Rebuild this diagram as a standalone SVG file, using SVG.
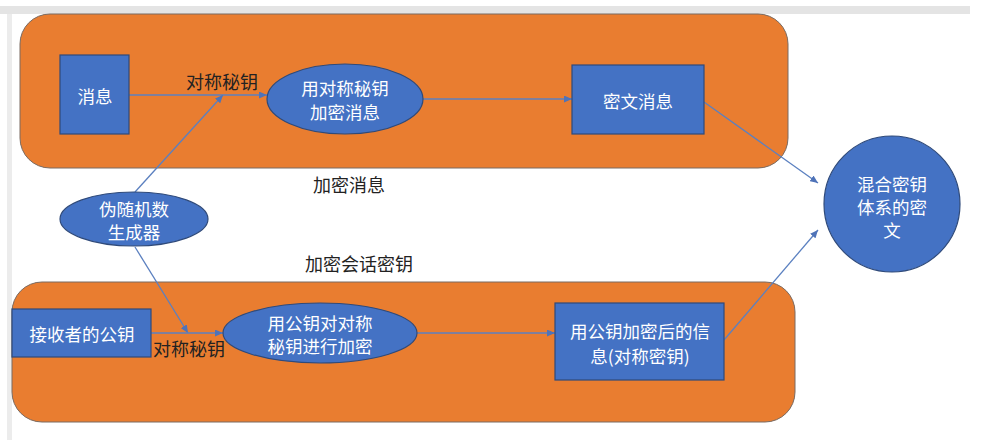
<svg xmlns="http://www.w3.org/2000/svg" width="999" height="440" viewBox="0 0 999 440">
<style>
.grp{fill:#E97D30;stroke:#7a6a60;stroke-width:1}
.nd{fill:#4472C4;stroke:#2F4A7A;stroke-width:1.2}
.nt{font-family:"Noto Sans CJK SC","Noto Sans",sans-serif;font-size:17.5px;fill:#ffffff;text-anchor:middle;dominant-baseline:central}
.lb{font-family:"Noto Sans CJK SC","Noto Sans",sans-serif;font-size:18px;fill:#222222;text-anchor:middle;dominant-baseline:central}
.cn{stroke:#5B80C0;stroke-width:1.3;fill:none;marker-end:url(#ah)}
</style>
<defs>
<marker id="ah" markerWidth="8" markerHeight="7" refX="8" refY="3.5" orient="auto" markerUnits="userSpaceOnUse">
<path d="M0,0 L8,3.5 L0,7 z" fill="#4F73B8"/>
</marker>
</defs>
<rect x="0" y="0" width="999" height="440" fill="#ffffff"/>
<rect x="0" y="6" width="970" height="8" fill="#e4e4e4"/>
<rect x="7" y="14" width="5" height="426" fill="#ececec"/>
<g id="group-top"><rect class="grp" x="20" y="14" width="768" height="154" rx="30" ry="30"/></g>
<g id="group-bottom"><rect class="grp" x="12" y="282" width="783" height="140" rx="30" ry="30"/></g>
<g id="connectors">
<line class="cn" x1="129" y1="95" x2="267" y2="95"/>
<line class="cn" x1="135" y1="192" x2="223" y2="95"/>
<line class="cn" x1="423" y1="99" x2="572" y2="99"/>
<line class="cn" x1="704" y1="102" x2="818" y2="183"/>
<line class="cn" x1="135" y1="247" x2="188" y2="333"/>
<line class="cn" x1="151" y1="333" x2="223" y2="333"/>
<line class="cn" x1="416" y1="333" x2="555" y2="333"/>
<line class="cn" x1="724" y1="340" x2="818" y2="230"/>
</g>
<g id="n-msg"><rect class="nd" x="60" y="55" width="69" height="79"/><text class="nt" x="95" y="95">消息</text></g>
<g id="n-enc-msg"><ellipse class="nd" cx="345" cy="99" rx="78" ry="35"/><text class="nt" x="345" y="87">用对称秘钥</text><text class="nt" x="345" y="111">加密消息</text></g>
<g id="n-cipher"><rect class="nd" x="572" y="65" width="132" height="69"/><text class="nt" x="638" y="100">密文消息</text></g>
<g id="n-hybrid"><circle class="nd" cx="892" cy="204" r="68"/><text class="nt" x="892" y="183">混合密钥</text><text class="nt" x="892" y="206">体系的密</text><text class="nt" x="892" y="229">文</text></g>
<g id="n-prng"><ellipse class="nd" cx="134" cy="219" rx="74" ry="27"/><text class="nt" x="134" y="208">伪随机数</text><text class="nt" x="134" y="231">生成器</text></g>
<g id="n-pubkey"><rect class="nd" x="12" y="309" width="139" height="48"/><text class="nt" x="82" y="333">接收者的公钥</text></g>
<g id="n-enc-key"><ellipse class="nd" cx="320" cy="333" rx="97" ry="30"/><text class="nt" x="320" y="322">用公钥对对称</text><text class="nt" x="320" y="345">秘钥进行加密</text></g>
<g id="n-enc-info"><rect class="nd" x="555" y="303" width="169" height="77"/><text class="nt" x="640" y="330">用公钥加密后的信</text><text class="nt" x="640" y="355">息(对称密钥)</text></g>
<g id="labels">
<text class="lb" x="222" y="81">对称秘钥</text>
<text class="lb" x="349" y="184">加密消息</text>
<text class="lb" x="359" y="263">加密会话密钥</text>
<text class="lb" x="189" y="348">对称秘钥</text>
</g>
</svg>
